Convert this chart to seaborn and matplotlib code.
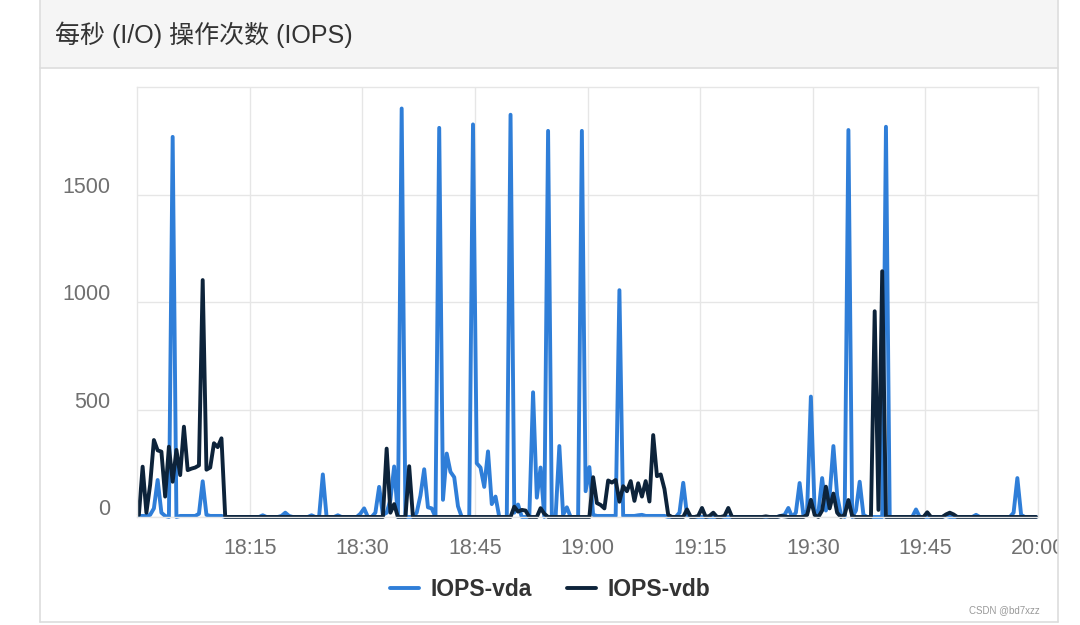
import pandas as pd
import matplotlib
matplotlib.use("Agg")
import matplotlib.pyplot as plt
import matplotlib.dates as mdates
from matplotlib.transforms import ScaledTranslation
from matplotlib.patches import Rectangle
from matplotlib.lines import Line2D
import seaborn as sns

# IOPS samples every 30 s, 18:00:15 .. 19:59:45
vda = [
    5, 5, 5, 10, 40, 172, 20, 5, 0, 1768, 0, 5, 5, 5, 5, 5, 15, 166, 10, 5,
    5, 5, 5, 0, 0, 0, 0, 0, 0, 0, 0, 0, 0, 8, 0, 0, 0, 0, 5, 20,
    5, 0, 0, 0, 0, 0, 8, 0, 0, 198, 0, 0, 0, 8, 0, 0, 0, 0, 0, 15,
    40, 0, 0, 20, 140, 10, 20, 80, 235, 0, 1900, 0, 0, 0, 20, 100, 222, 45, 40, 0,
    1810, 80, 295, 210, 185, 50, 0, 0, 0, 1826, 250, 230, 140, 305, 60, 95, 0, 0, 0, 1871,
    20, 58, 0, 0, 0, 580, 90, 230, 0, 1796, 0, 0, 330, 10, 45, 0, 0, 0, 1796, 120,
    232, 10, 5, 5, 5, 5, 5, 5, 1055, 5, 5, 5, 5, 8, 10, 5, 5, 5, 5, 5,
    5, 0, 0, 0, 20, 159, 10, 0, 0, 0, 0, 0, 0, 0, 0, 0, 0, 0, 0, 0,
    0, 0, 0, 0, 0, 0, 0, 0, 0, 0, 0, 5, 10, 42, 0, 20, 158, 10, 30, 560,
    30, 20, 181, 30, 100, 330, 100, 10, 0, 1800, 0, 30, 164, 10, 0, 0, 0, 0, 0, 1815,
    0, 0, 0, 0, 0, 0, 0, 35, 0, 0, 0, 0, 0, 0, 0, 5, 0, 0, 0, 0,
    0, 0, 0, 10, 0, 0, 0, 0, 0, 0, 0, 0, 0, 20, 181, 10, 0, 0, 0, 0,
]
vdb = [
    10, 234, 20, 150, 358, 310, 304, 95, 327, 164, 312, 195, 420, 218, 225, 230, 240, 1102, 220, 230,
    343, 325, 366, 0, 0, 0, 0, 0, 0, 0, 0, 0, 0, 0, 0, 0, 0, 0, 0, 0,
    0, 0, 0, 0, 0, 0, 0, 0, 0, 0, 0, 0, 0, 0, 0, 0, 0, 0, 0, 0,
    0, 0, 0, 0, 0, 0, 318, 20, 60, 0, 0, 0, 236, 0, 0, 0, 0, 0, 0, 0,
    0, 0, 0, 0, 0, 0, 0, 0, 0, 0, 0, 0, 0, 0, 0, 0, 0, 0, 0, 0,
    48, 25, 33, 30, 0, 0, 0, 41, 15, 0, 0, 0, 0, 0, 0, 0, 0, 0, 0, 0,
    0, 185, 65, 56, 40, 170, 160, 172, 71, 143, 120, 167, 75, 157, 95, 167, 72, 381, 190, 198,
    130, 10, 0, 0, 0, 0, 35, 0, 0, 5, 42, 0, 5, 20, 0, 0, 5, 42, 0, 0,
    0, 0, 0, 0, 0, 0, 0, 3, 0, 0, 0, 5, 3, 0, 0, 0, 0, 0, 10, 80,
    10, 0, 30, 141, 40, 109, 20, 0, 10, 79, 5, 0, 0, 0, 0, 0, 957, 33, 1143, 0,
    0, 0, 0, 0, 0, 0, 0, 0, 0, 0, 22, 0, 0, 0, 0, 12, 20, 12, 0, 0,
    0, 0, 0, 0, 0, 0, 0, 0, 0, 0, 0, 0, 0, 0, 0, 0, 0, 0, 0, 0,
]
series_names = ["IOPS-vda", "IOPS-vdb"]
series_colors = ["#2f7ed8", "#0d233a"]
x_ticks = ["18:15", "18:30", "18:45", "19:00", "19:15", "19:30", "19:45", "20:00"]
y_ticks = [0, 500, 1000, 1500]
title = "每秒 (I/O) 操作次数 (IOPS)"

day = "2023-01-01 "
times = pd.date_range(day + "18:00:15", periods=len(vda), freq="30s")
df = pd.DataFrame({"time": times, series_names[0]: vda, series_names[1]: vdb})

sns.set_theme(style="white")
plt.rcParams["font.family"] = ["Liberation Sans", "Noto Sans CJK SC", "DejaVu Sans"]

W, H = 1080, 625
fig = plt.figure(figsize=(W / 100, H / 100), dpi=100)
fig.patch.set_facecolor("white")

def fx(px):
    return px / W

def fy(py):
    return 1 - py / H

# card frame + header
border = "#dddddd"
fig.patches.append(Rectangle((fx(40), fy(68)), fx(1018), 68 / H, transform=fig.transFigure,
                             facecolor="#f5f5f5", edgecolor="none", zorder=0))
for xs, ys in [([40, 1058], [68, 68]), ([40, 40], [0, 622]), ([1058, 1058], [0, 622]), ([40, 1058], [622, 622])]:
    fig.add_artist(Line2D([fx(v) for v in xs], [fy(v) for v in ys], transform=fig.transFigure,
                          color=border, lw=1.2, zorder=1))
fig.text(fx(55), fy(35), title, fontsize=18, color="#333333", va="center", ha="left",
         family=["Liberation Sans", "Noto Sans CJK SC", "DejaVu Sans"])

ax = fig.add_axes([fx(137), fy(517), fx(901), 430 / H])
ax.set_facecolor("white")
for name, color in zip(series_names, series_colors):
    sns.lineplot(data=df, x="time", y=name, color=color, lw=2.8, ax=ax, label=name,
                 solid_joinstyle="round", solid_capstyle="round", clip_on=False, legend=False)

ax.set_xlim(pd.Timestamp(day + "18:00"), pd.Timestamp(day + "20:00"))
ax.set_ylim(0, 2000)
ax.set_xticks([pd.Timestamp(day + t) for t in x_ticks])
ax.xaxis.set_major_formatter(mdates.DateFormatter("%H:%M"))
ax.set_yticks(y_ticks)
ax.set_yticklabels([str(v) for v in y_ticks])
ax.set_xlabel("")
ax.set_ylabel("")
ax.grid(True, color="#e6e6e6", lw=1.0)
ax.set_axisbelow(True)
for s in ax.spines.values():
    s.set_color("#e6e6e6")
    s.set_linewidth(1.0)
ax.tick_params(axis="both", length=0, labelsize=15.5, labelcolor="#707070")
ax.tick_params(axis="x", pad=15)
ax.tick_params(axis="y", pad=19)
for lab in ax.get_yticklabels():
    lab.set_transform(lab.get_transform() + ScaledTranslation(0, 0.10, fig.dpi_scale_trans))
clip = Rectangle((0, 0), fx(1058), 1, transform=fig.transFigure, facecolor="none", edgecolor="none")
fig.patches.append(clip)
for lab in ax.get_xticklabels():
    lab.set_clip_path(clip)

handles = [Line2D([], [], color=c, lw=2.8) for c in series_colors]
fig.legend(handles, series_names, loc="center", bbox_to_anchor=(fx(550), fy(590)), ncol=2,
           frameon=False, handlelength=1.3, handletextpad=0.5, columnspacing=1.5,
           prop={"size": 16.5, "weight": "bold"}, labelcolor="#333333")

fig.text(fx(1040), fy(610), "CSDN @bd7xzz", fontsize=7, color="#999999", ha="right", va="center")

fig.savefig("out.png", dpi=100)
